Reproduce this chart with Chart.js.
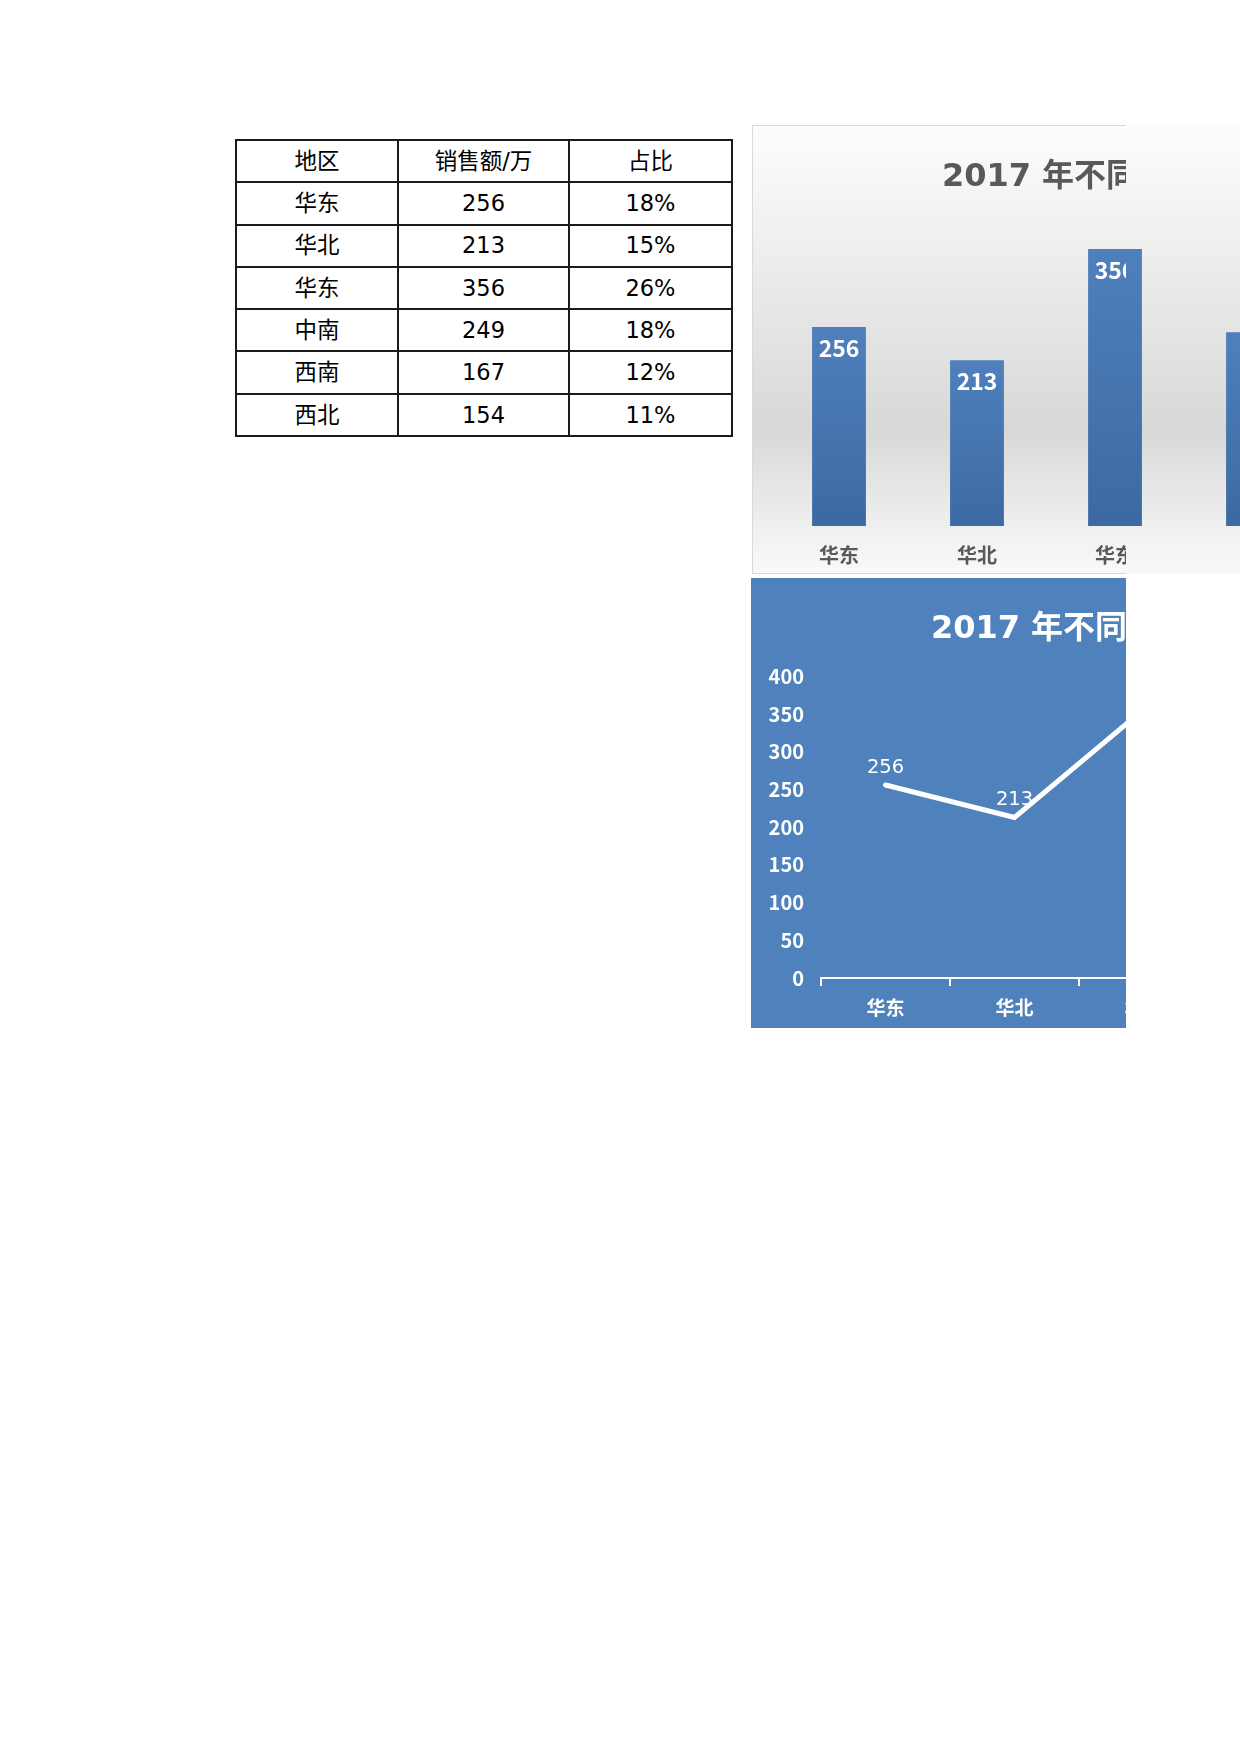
<!DOCTYPE html>
<html><head><meta charset="utf-8">
<script src="https://cdn.jsdelivr.net/npm/chart.js@4.4.1/dist/chart.umd.min.js"></script>
<style>
html,body{margin:0;padding:0;background:#fff;}
body{width:1240px;height:1754px;position:relative;overflow:hidden;}
#tbl{position:absolute;left:235px;top:139px;border-collapse:collapse;table-layout:fixed;width:498px;
  font-family:"DejaVu Sans","Noto Sans CJK SC",sans-serif;font-size:22.5px;color:#000;}
#tbl td{border:2px solid #1a1a1a;text-align:center;vertical-align:middle;padding:0;line-height:1;}
#tbl tr{height:42.3px;}
#barWrap{position:absolute;left:752px;top:125px;width:488px;height:449px;overflow:hidden;}
#barBorder{position:absolute;left:752px;top:125px;width:373px;height:447px;border:1px solid #d9d9d9;border-right:none;pointer-events:none;}
#lineWrap{position:absolute;left:751px;top:578px;width:375px;height:450px;overflow:hidden;background:#4f81bd;}
canvas{display:block;}
</style>
</head>
<body>
<table id="tbl"><colgroup><col style="width:162px"><col style="width:171px"><col style="width:163px"></colgroup><tbody id="tb"></tbody></table>
<div id="barWrap"><canvas id="bar" width="866" height="449"></canvas></div>
<div id="barBorder"></div>
<div id="lineWrap"><canvas id="line" width="854" height="450"></canvas></div>
<script>
// ---- data ----
const headers = ['地区', '销售额/万', '占比'];
const categories = ['华东', '华北', '华东', '中南', '西南', '西北'];
const sales = [256, 213, 356, 249, 167, 154];
const shares = ['18%', '15%', '26%', '18%', '12%', '11%'];
const chartTitle = '2017 年不同地区销售额统计分析';
const yMin = 0;
const yMax = 400;
const yStep = 50;

// ---- table ----
const tb = document.getElementById('tb');
function addRow(cells){
  const tr = document.createElement('tr');
  cells.forEach(c => { const td = document.createElement('td'); td.textContent = c; tr.appendChild(td); });
  tb.appendChild(tr);
}
addRow(headers);
categories.forEach((c, i) => addRow([c, String(sales[i]), shares[i]]));

const CJK = '"Noto Sans CJK SC","DejaVu Sans",sans-serif';
const DJ = '"DejaVu Sans","Noto Sans CJK SC",sans-serif';
Chart.defaults.font.family = DJ;

// ---- bar chart ----
const CLIP_X = 374;
const barDeco = {
  id: 'barDeco',
  beforeDraw(chart){
    const {ctx, width, height} = chart;
    const g = ctx.createLinearGradient(0, 0, 0, height);
    g.addColorStop(0, '#fdfdfd');
    g.addColorStop(0.15, '#f5f5f5');
    g.addColorStop(0.68, '#d8d8d8');
    g.addColorStop(0.9, '#f0f0f0');
    g.addColorStop(1, '#f9f9f9');
    ctx.save(); ctx.fillStyle = g; ctx.fillRect(0, 0, width, height); ctx.restore();
    ctx.save(); ctx.beginPath(); ctx.rect(0, 0, CLIP_X, height); ctx.clip();
  },
  beforeDatasetsDraw(chart){ chart.ctx.restore(); },
  afterDatasetsDraw(chart){
    const ctx = chart.ctx;
    const meta = chart.getDatasetMeta(0);
    ctx.save(); ctx.beginPath(); ctx.rect(0, 0, CLIP_X, chart.height); ctx.clip();
    ctx.font = 'bold 23px ' + CJK;
    ctx.fillStyle = '#ffffff'; ctx.textAlign = 'center'; ctx.textBaseline = 'middle';
    meta.data.forEach((el, i) => { ctx.fillText(String(sales[i]), el.x, el.y + 21); });
    ctx.restore();
  }
};
new Chart(document.getElementById('bar'), {
  type: 'bar',
  data: { labels: categories, datasets: [{
    data: sales,
    backgroundColor(c){
      const ch = c.chart;
      if (!ch.chartArea) return '#4776b0';
      const y = ch.scales.y;
      const top = y.getPixelForValue(c.raw), bot = y.getPixelForValue(0);
      const g = ch.ctx.createLinearGradient(0, top, 0, bot);
      g.addColorStop(0, '#4f80bd'); g.addColorStop(1, '#3c69a2');
      return g;
    },
    borderWidth: 0,
    barPercentage: 0.39, categoryPercentage: 1
  }]},
  options: {
    responsive: false, animation: false,
    layout: { padding: { left: 18, right: 20, top: 0, bottom: 7 } },
    plugins: {
      legend: { display: false }, tooltip: { enabled: false },
      title: { display: true, text: chartTitle, color: '#595959',
        font: { family: DJ, size: 32, weight: 'bold' }, padding: { top: 33, bottom: 18.5 } }
    },
    scales: {
      x: { grid: { display: false, drawTicks: false }, border: { display: false },
        ticks: { color: '#595959', font: { family: CJK, size: 20, weight: 'bold' }, padding: 17, maxRotation: 0 },
        afterFit(s){ s.height = 41; } },
      y: { display: false, min: yMin, max: yMax }
    }
  },
  plugins: [barDeco]
});

// ---- line chart ----
const lineLabels = {
  id: 'lineLabels',
  afterDatasetsDraw(chart){
    const ctx = chart.ctx;
    const meta = chart.getDatasetMeta(0);
    ctx.save();
    ctx.font = '19.5px ' + DJ;
    ctx.fillStyle = '#ffffff'; ctx.textAlign = 'center'; ctx.textBaseline = 'middle';
    meta.data.forEach((el, i) => { ctx.fillText(String(sales[i]), el.x, el.y - 17); });
    ctx.restore();
  }
};
new Chart(document.getElementById('line'), {
  type: 'line',
  data: { labels: categories, datasets: [{
    data: sales, borderColor: '#ffffff', borderWidth: 5, pointRadius: 0,
    borderCapStyle: 'round', borderJoinStyle: 'miter', tension: 0, fill: false
  }]},
  options: {
    responsive: false, animation: false,
    layout: { padding: { left: 0, right: 10, top: 0, bottom: 9 } },
    plugins: {
      legend: { display: false }, tooltip: { enabled: false },
      title: { display: true, text: chartTitle, color: '#ffffff',
        font: { family: DJ, size: 32, weight: 'bold' }, padding: { top: 32, bottom: 28 } }
    },
    scales: {
      x: { offset: true,
        grid: { display: true, offset: true, drawOnChartArea: false, drawTicks: true, tickLength: 8, color: '#ffffff', lineWidth: 2 },
        border: { display: true, color: '#ffffff', width: 2 },
        ticks: { color: '#ffffff', font: { family: CJK, size: 19, weight: 'bold' }, padding: 10, maxRotation: 0 },
        afterFit(s){ s.height = 41; } },
      y: { min: yMin, max: yMax,
        grid: { display: false, drawTicks: false }, border: { display: false },
        ticks: { stepSize: yStep, color: '#ffffff', font: { family: CJK, size: 20, weight: 'bold' }, padding: 17 },
        afterFit(s){ s.width = 70; } }
    }
  },
  plugins: [lineLabels]
});
</script>
</body></html>
